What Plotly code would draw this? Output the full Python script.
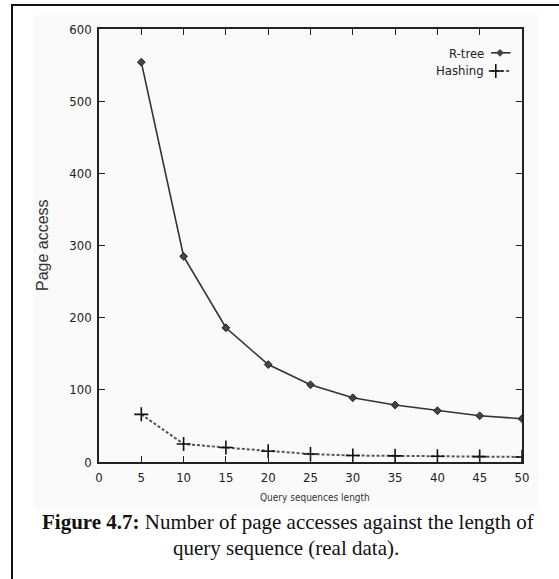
import plotly.graph_objects as go

# Data
query_length = [5, 10, 15, 20, 25, 30, 35, 40, 45, 50]
rtree = [554, 285, 186, 135, 107, 89, 79, 71, 64, 60]
hashing = [66, 25, 20, 15, 11, 9, 8.5, 8, 7.5, 7]
x_ticks = [0, 5, 10, 15, 20, 25, 30, 35, 40, 45, 50]
y_ticks = [0, 100, 200, 300, 400, 500, 600]

W, H = 559, 579
L, R, T, B = 99, 522, 29, 462


def px(x):
    return (x - L) / (R - L)


def py(y):
    return (B - y) / (B - T)


NARROW = "Liberation Sans Narrow, Arial Narrow, DejaVu Sans Condensed, Liberation Sans, sans-serif"
TICKFONT = dict(family=NARROW, size=13, color="#222")

fig = go.Figure()
fig.add_trace(go.Scatter(
    x=query_length, y=rtree, mode="lines+markers", name="R-tree",
    line=dict(color="#333", width=1.6),
    marker=dict(symbol="diamond", size=6, color="#444", line=dict(color="#222", width=1)),
    showlegend=False))
fig.add_trace(go.Scatter(
    x=query_length, y=hashing, mode="lines+markers", name="Hashing",
    line=dict(color="#555", width=2, dash="3px,2px"),
    marker=dict(symbol="cross-thin-open", size=10, color="#111", line=dict(color="#111", width=1.6)),
    showlegend=False))

# legend key samples on an overlay axis
fig.add_trace(go.Scatter(x=[0.927, 0.973], y=[0.945, 0.945], xaxis="x2", yaxis="y2",
                         mode="lines", line=dict(color="#333", width=1.6), showlegend=False, hoverinfo="skip"))
fig.add_trace(go.Scatter(x=[0.948], y=[0.945], xaxis="x2", yaxis="y2", mode="markers",
                         marker=dict(symbol="diamond", size=6, color="#444"), showlegend=False, hoverinfo="skip"))
fig.add_trace(go.Scatter(x=[0.927, 0.973], y=[0.903, 0.903], xaxis="x2", yaxis="y2",
                         mode="lines", line=dict(color="#555", width=2, dash="3px,2px"), showlegend=False, hoverinfo="skip"))
fig.add_trace(go.Scatter(x=[0.938], y=[0.903], xaxis="x2", yaxis="y2", mode="markers",
                         marker=dict(symbol="cross-thin-open", size=10, color="#111",
                                     line=dict(color="#111", width=1.6)),
                         showlegend=False, hoverinfo="skip"))

fig.update_layout(
    width=W, height=H,
    margin=dict(l=L, r=W - R, t=T, b=H - B),
    paper_bgcolor="white", plot_bgcolor="rgba(0,0,0,0)",
    xaxis=dict(range=[0, 50], tickvals=x_ticks, ticks="inside", ticklen=6, tickwidth=1.3,
               tickcolor="#222", showline=True, linecolor="#222", linewidth=1.6, mirror="ticks",
               showgrid=False, zeroline=False, tickfont=TICKFONT, ticklabelstandoff=3),
    yaxis=dict(range=[0, 600], tickvals=y_ticks, ticks="inside", ticklen=6, tickwidth=1.3,
               tickcolor="#222", showline=True, linecolor="#222", linewidth=1.6, mirror="ticks",
               showgrid=False, zeroline=False, tickfont=TICKFONT, ticklabelstandoff=3),
    xaxis2=dict(range=[0, 1], overlaying="x", visible=False, anchor="y2"),
    yaxis2=dict(range=[0, 1], overlaying="y", visible=False, anchor="x2"),
    shapes=[
        dict(type="rect", xref="paper", yref="paper", x0=px(33), x1=px(539), y0=py(509), y1=py(15),
             fillcolor="#fafafa", line=dict(width=0), layer="below"),
        dict(type="line", xref="paper", yref="paper", x0=px(12), x1=px(12), y0=py(4), y1=py(582),
             line=dict(color="#111", width=2)),
        dict(type="line", xref="paper", yref="paper", x0=px(11), x1=px(562), y0=py(5), y1=py(5),
             line=dict(color="#111", width=2)),
    ],
    annotations=[
        dict(text="R-tree", xref="paper", yref="paper", x=px(486), y=py(53), xanchor="right",
             yanchor="middle", showarrow=False, font=dict(family=NARROW, size=13, color="#222")),
        dict(text="Hashing", xref="paper", yref="paper", x=px(486), y=py(71), xanchor="right",
             yanchor="middle", showarrow=False, font=dict(family=NARROW, size=13, color="#222")),
        dict(text="Page access", xref="paper", yref="paper", x=px(43), y=py(245), textangle=-90,
             xanchor="center", yanchor="middle", showarrow=False,
             font=dict(family="Liberation Sans, Arial, sans-serif", size=16, color="#333")),
        dict(text="Query sequences length", xref="paper", yref="paper", x=px(315), y=py(497),
             xanchor="center", yanchor="middle", showarrow=False,
             font=dict(family=NARROW, size=10, color="#333")),
        dict(text="<b>Figure 4.7:</b> Number of page accesses against the length of", xref="paper",
             yref="paper", x=px(288), y=py(522), xanchor="center", yanchor="middle", showarrow=False,
             font=dict(family="Liberation Serif, Times New Roman, serif", size=21, color="#111")),
        dict(text="query sequence (real data).", xref="paper", yref="paper", x=px(286), y=py(548),
             xanchor="center", yanchor="middle", showarrow=False,
             font=dict(family="Liberation Serif, Times New Roman, serif", size=21, color="#111")),
    ],
)

fig.write_html("out.html")
